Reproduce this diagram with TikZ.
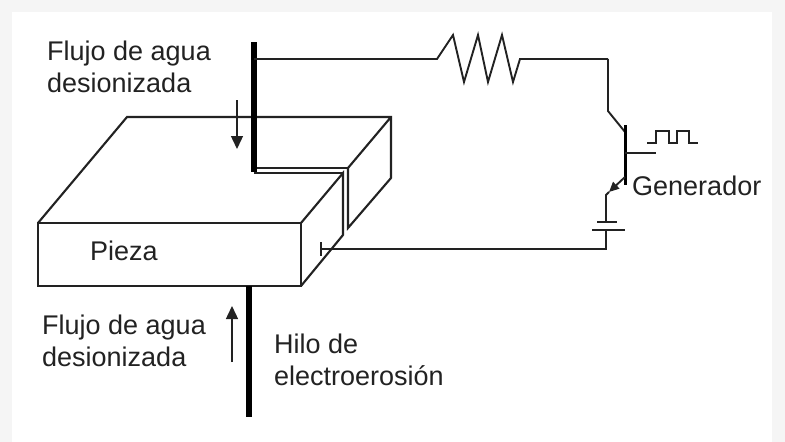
\documentclass[tikz,border=0pt]{standalone}
\usepackage{fontspec}
\setmainfont{Liberation Sans}
\usetikzlibrary{arrows.meta}
\definecolor{ink}{HTML}{222222}
\tikzset{
  wire/.style={draw=ink,line width=1.9pt,line join=miter},
  edge3d/.style={draw=ink,line width=2.1pt,line join=miter},
  thickwire/.style={draw=black,line width=5.5pt},
  flow/.style={draw=ink,line width=1.4pt,-{Triangle[length=13pt,width=12pt]}},
  lbl/.style={text=ink,font=\fontsize{27}{32}\selectfont,align=left,inner sep=0pt}
}
\begin{document}
\begin{tikzpicture}[x=1pt,y=-1pt]
\useasboundingbox (0,0) rectangle (785,442);
\fill[black!4] (0,0) rectangle (785,442);
\fill[white] (12,12) rectangle (772,442);
% work piece
\coordinate (fl) at (38,223); \coordinate (fr) at (301,223);
\coordinate (bl) at (38,286); \coordinate (br) at (301,286);
\coordinate (backl) at (127,117); \coordinate (backr) at (391,117);
\coordinate (backd) at (391,178); \coordinate (slotu) at (348,168);
\coordinate (slotd) at (348,228); \coordinate (sloti) at (343,173);
\coordinate (slotb) at (343,235); \coordinate (wtop) at (254,42);
\coordinate (wbend) at (254,168); \coordinate (wlow) at (254,173);
\draw[edge3d] (fl) rectangle (br);
\draw[edge3d] (fl) -- (backl) -- (backr) -- (backd) -- (slotd) -- (slotu) -- (backr);
\draw[edge3d] (fr) -- (sloti) -- (slotb) -- (br);
\draw[edge3d] (wbend) -- (slotu);
\draw[edge3d] (wlow) -- (sloti);
% wire electrode
\draw[thickwire] (wtop) -- (254,172);
\coordinate (w2t) at (249,286); \coordinate (w2b) at (249,417);
\draw[thickwire] (w2t) -- (w2b);
% circuit top with resistor
\coordinate (ctop) at (608,59);
\draw[wire] (254,59) -- (437,59) -- (453,35) -- (464,82) -- (478,35) -- (488,82) -- (502,35) -- (513,82) -- (520,59) -- (ctop);
% transistor
\coordinate (bt) at (625,125); \coordinate (bb) at (625,185);
\coordinate (ck) at (608,111); \coordinate (cb) at (625,132);
\coordinate (eb) at (625,177); \coordinate (ee) at (606,195);
\coordinate (blead) at (656,153); \coordinate (bmid) at (625,153);
\draw[wire] (ctop) -- (ck) -- (cb);
\draw[draw=black,line width=3pt] (bt) -- (bb);
\draw[wire,line width=1.4pt] (bmid) -- (blead);
\draw[wire,-{Triangle[length=10pt,width=9pt]}] (eb) -- (609,192);
% battery and return
\coordinate (p1) at (606,222); \coordinate (p2) at (606,230);
\coordinate (ret) at (606,249); \coordinate (tee) at (321,249);
\draw[wire] (609,192) -- (ee) -- (p1);
\draw[wire,line width=1.5pt] (597,222) -- (617,222);
\draw[wire,line width=1.5pt] (592,230) -- (625,230);
\draw[wire] (p2) -- (ret) -- (tee);
\draw[wire] (321,242) -- (321,256);
% pulse train
\draw[wire,line width=1.4pt] (647,143) -- (656,143) -- (656,131) -- (669,131) -- (669,143) -- (677,143) -- (677,131) -- (689,131) -- (689,143) -- (698,143);
% flow arrows
\coordinate (a1) at (237,100); \coordinate (a2) at (237,149);
\coordinate (a3) at (232,362); \coordinate (a4) at (232,306);
\draw[flow] (a1) -- (a2);
\draw[flow] (a3) -- (a4);
% labels
\node[lbl,anchor=west] (t1) at (47,67) {Flujo de agua\\desionizada};
\node[lbl,anchor=west] (t2) at (42,341) {Flujo de agua\\desionizada};
\node[lbl,anchor=west] (t3) at (274,360) {Hilo de\\electroerosión};
\node[lbl,anchor=center] (t4) at (124,251) {Pieza};
\node[lbl,anchor=west] (t5) at (632,186) {Generador};
\end{tikzpicture}
\end{document}
